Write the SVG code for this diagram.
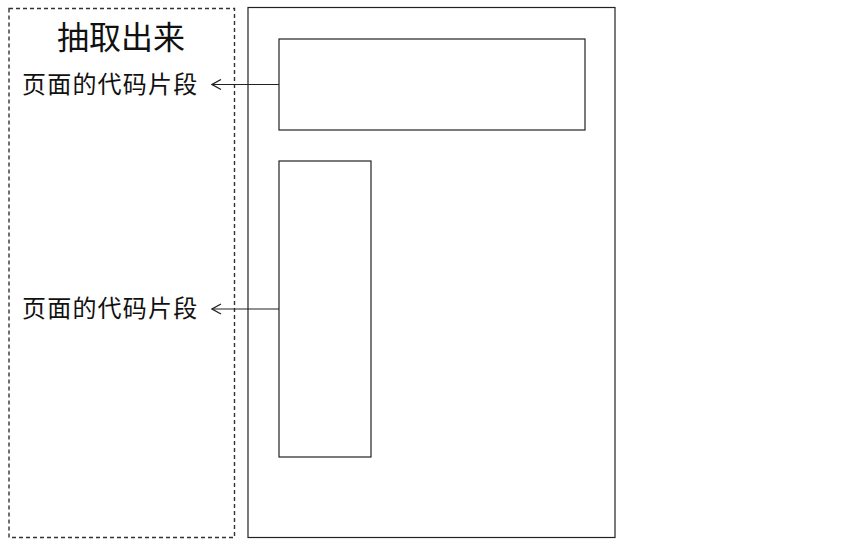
<svg xmlns="http://www.w3.org/2000/svg" width="859" height="559" viewBox="0 0 859 559">
<style>
.box{fill:none;stroke:#222;stroke-width:1.2}
.dash{fill:none;stroke:#333;stroke-width:1.4;stroke-dasharray:4 3}
.conn{fill:none;stroke:#222;stroke-width:1.2}
.t{font-family:"Microsoft YaHei","Noto Sans CJK SC",sans-serif;fill:#111}
</style>
<defs>
<marker id="arr" viewBox="0 0 12 12" refX="11" refY="6" markerWidth="12" markerHeight="12" markerUnits="userSpaceOnUse" orient="auto">
<path d="M2,1 L11,6 L2,11" fill="none" stroke="#222" stroke-width="1.3"/>
</marker>
</defs>
<rect width="859" height="559" fill="#fff"/>
<g id="extract">
<rect class="dash" x="9" y="8.5" width="225.5" height="529"/>
<text class="t" x="121" y="49" font-size="32" text-anchor="middle">抽取出来</text>
</g>
<g id="page">
<rect class="box" x="248" y="7.5" width="367" height="530"/>
</g>
<g id="top-fragment">
<rect class="box" x="279" y="39" width="306" height="91"/>
</g>
<g id="side-fragment">
<rect class="box" x="279" y="161" width="92" height="296"/>
</g>
<g id="label1"><text class="t" x="22" y="93" font-size="24" letter-spacing="1.2">页面的代码片段</text></g>
<g id="label2"><text class="t" x="22" y="317" font-size="24" letter-spacing="1.2">页面的代码片段</text></g>
<g id="connectors">
<line class="conn" x1="279" y1="84.5" x2="212" y2="84.5" marker-end="url(#arr)"/>
<line class="conn" x1="279" y1="309" x2="212" y2="309" marker-end="url(#arr)"/>
</g>
</svg>
